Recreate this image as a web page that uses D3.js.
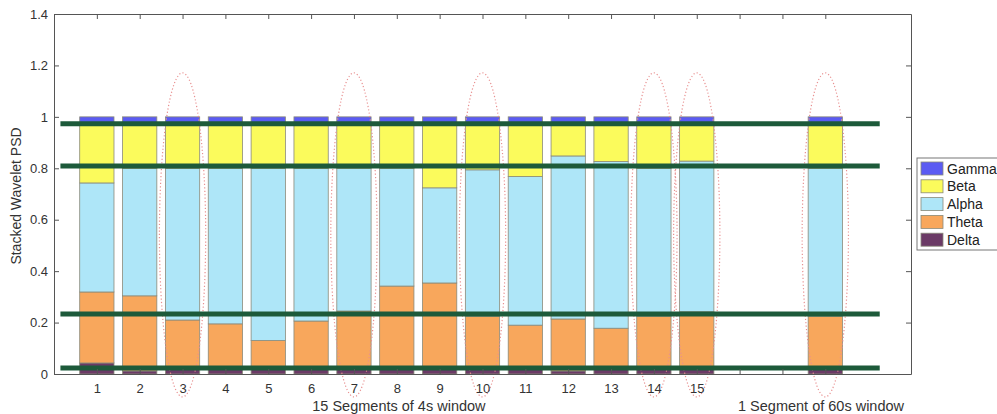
<!DOCTYPE html>
<html>
<head>
<meta charset="utf-8">
<script src="https://cdn.jsdelivr.net/npm/d3@7"></script>
<style>
  html, body { margin: 0; padding: 0; background: #fff; }
  svg { display: block; font-family: "Liberation Sans", Arial, sans-serif; }
</style>
</head>
<body>
<svg id="chart" width="997" height="414"></svg>
<script>
// ---------------- DATA ----------------
const positions = [1,2,3,4,5,6,7,8,9,10,11,12,13,14,15,18];
const xTickValues = [1,2,3,4,5,6,7,8,9,10,11,12,13,14,15,16,17,18];
const xTickLabels = ["1","2","3","4","5","6","7","8","9","10","11","12","13","14","15","","",""];
const yTickValues = [0,0.2,0.4,0.6,0.8,1,1.2,1.4];
const yTickLabels = ["0","0.2","0.4","0.6","0.8","1","1.2","1.4"];

const bands = ["Delta","Theta","Alpha","Beta","Gamma"];
const delta = [0.043,0.012,0.02,0.02,0.02,0.02,0.02,0.02,0.02,0.02,0.02,0.012,0.02,0.02,0.02,0.02];
const theta = [0.276,0.292,0.19,0.175,0.11,0.186,0.225,0.322,0.334,0.205,0.17,0.202,0.158,0.205,0.222,0.205];
const alpha = [0.424,0.496,0.59,0.605,0.67,0.594,0.555,0.458,0.37,0.569,0.578,0.634,0.648,0.575,0.586,0.575];
const beta  = [0.224,0.167,0.167,0.167,0.167,0.167,0.167,0.167,0.243,0.173,0.199,0.119,0.141,0.167,0.139,0.167];
const gamma = [0.033,0.033,0.033,0.033,0.033,0.033,0.033,0.033,0.033,0.033,0.033,0.033,0.033,0.033,0.033,0.033];

const refLevels = [0.973, 0.809, 0.233, 0.023];
const refLineRange = [0.15, 19.27];
const highlighted = [3,7,10,14,15,18];
const highlightCenter = 0.541, highlightHalfHeight = 0.63, highlightHalfWidth = 0.54;

const xAxisTitles = [
  {text: "15 Segments of 4s window", x: 8.05},
  {text: "1 Segment of 60s window", x: 17.9}
];
const yAxisTitle = "Stacked Wavelet PSD";

const colors = {Delta:"#6b3a66", Theta:"#f8a75c", Alpha:"#aee6f8", Beta:"#fbfb5c", Gamma:"#5b5bf2"};

// ---------------- LAYOUT ----------------
const W = 997, H = 414;
const margin = {left: 54, right: 86, top: 14, bottom: 40};
const pw = W - margin.left - margin.right;
const ph = H - margin.top - margin.bottom;

const svg = d3.select("#chart");
const g = svg.append("g").attr("transform", `translate(${margin.left},${margin.top})`);

const x = d3.scaleLinear().domain([0, 20]).range([0, pw]);
const y = d3.scaleLinear().domain([0, 1.4]).range([ph, 0]);
const barW = x(0.8) - x(0);

// stacked data
const rows = positions.map((p, i) => ({pos: p, Delta: delta[i], Theta: theta[i], Alpha: alpha[i], Beta: beta[i], Gamma: gamma[i]}));
const stack = d3.stack().keys(bands)(rows);

stack.forEach(layer => {
  g.append("g").selectAll("rect").data(layer).join("rect")
    .attr("x", d => x(d.data.pos) - barW / 2)
    .attr("width", barW)
    .attr("y", d => y(d[1]))
    .attr("height", d => y(d[0]) - y(d[1]))
    .attr("fill", colors[layer.key])
    .attr("stroke", "#8a8a7a")
    .attr("stroke-width", 0.8);
});

// highlight ellipses
g.append("g").selectAll("ellipse").data(highlighted).join("ellipse")
  .attr("cx", d => x(d))
  .attr("cy", y(highlightCenter))
  .attr("rx", x(highlightHalfWidth) - x(0))
  .attr("ry", y(0) - y(highlightHalfHeight))
  .attr("fill", "none")
  .attr("stroke", "#e89090")
  .attr("stroke-width", 1.2)
  .attr("stroke-dasharray", "1.2,2.2");

// reference lines
g.append("g").selectAll("line").data(refLevels).join("line")
  .attr("x1", x(refLineRange[0]))
  .attr("x2", x(refLineRange[1]))
  .attr("y1", d => y(d))
  .attr("y2", d => y(d))
  .attr("stroke", "#1d5a3a")
  .attr("stroke-width", 5);

// axes (MATLAB-like box with inward ticks)
const axisColor = "#555";
const xb = g.append("g").attr("transform", `translate(0,${ph})`)
  .call(d3.axisBottom(x).tickValues(xTickValues).tickSizeInner(-5).tickSizeOuter(0)
    .tickPadding(10).tickFormat((d, i) => xTickLabels[i]));
const xt = g.append("g")
  .call(d3.axisTop(x).tickValues(xTickValues).tickSizeInner(-5).tickSizeOuter(0).tickFormat(""));
const yl = g.append("g")
  .call(d3.axisLeft(y).tickValues(yTickValues).tickSizeInner(-5).tickSizeOuter(0)
    .tickPadding(6).tickFormat((d, i) => yTickLabels[i]));
const yr = g.append("g").attr("transform", `translate(${pw},0)`)
  .call(d3.axisRight(y).tickValues(yTickValues).tickSizeInner(-5).tickSizeOuter(0).tickFormat(""));

[xb, xt, yl, yr].forEach(a => {
  a.select(".domain").attr("stroke", axisColor).attr("stroke-width", 1);
  a.selectAll(".tick line").attr("stroke", axisColor);
  a.selectAll("text").attr("fill", "#333").style("font-size", "13px")
    .style("font-family", "'Liberation Sans', Arial, sans-serif");
});

// axis titles
g.selectAll(".xtitle").data(xAxisTitles).join("text")
  .attr("class", "xtitle")
  .attr("x", d => x(d.x))
  .attr("y", ph + 37)
  .attr("text-anchor", "middle")
  .attr("fill", "#333")
  .style("font-size", "14.5px")
  .text(d => d.text);

svg.append("text")
  .attr("transform", `translate(21,${margin.top + ph / 2 + 2}) rotate(-90)`)
  .attr("text-anchor", "middle")
  .attr("fill", "#333")
  .style("font-size", "14px")
  .text(yAxisTitle);

// legend
const legendItems = ["Gamma","Beta","Alpha","Theta","Delta"];
const lg = svg.append("g").attr("transform", "translate(917,158)");
lg.append("rect").attr("x", 0).attr("y", 0).attr("width", 90).attr("height", 92)
  .attr("fill", "#fff").attr("stroke", "#777").attr("stroke-width", 1);
const li = lg.selectAll(".li").data(legendItems).join("g")
  .attr("class", "li")
  .attr("transform", (d, i) => `translate(4,${4 + i * 17.8})`);
li.append("rect").attr("width", 22).attr("height", 13)
  .attr("fill", d => colors[d]).attr("stroke", "#8a8a7a").attr("stroke-width", 0.8);
li.append("text").attr("x", 26).attr("y", 11.5)
  .attr("fill", "#222").style("font-size", "14px").text(d => d);
</script>
</body>
</html>
